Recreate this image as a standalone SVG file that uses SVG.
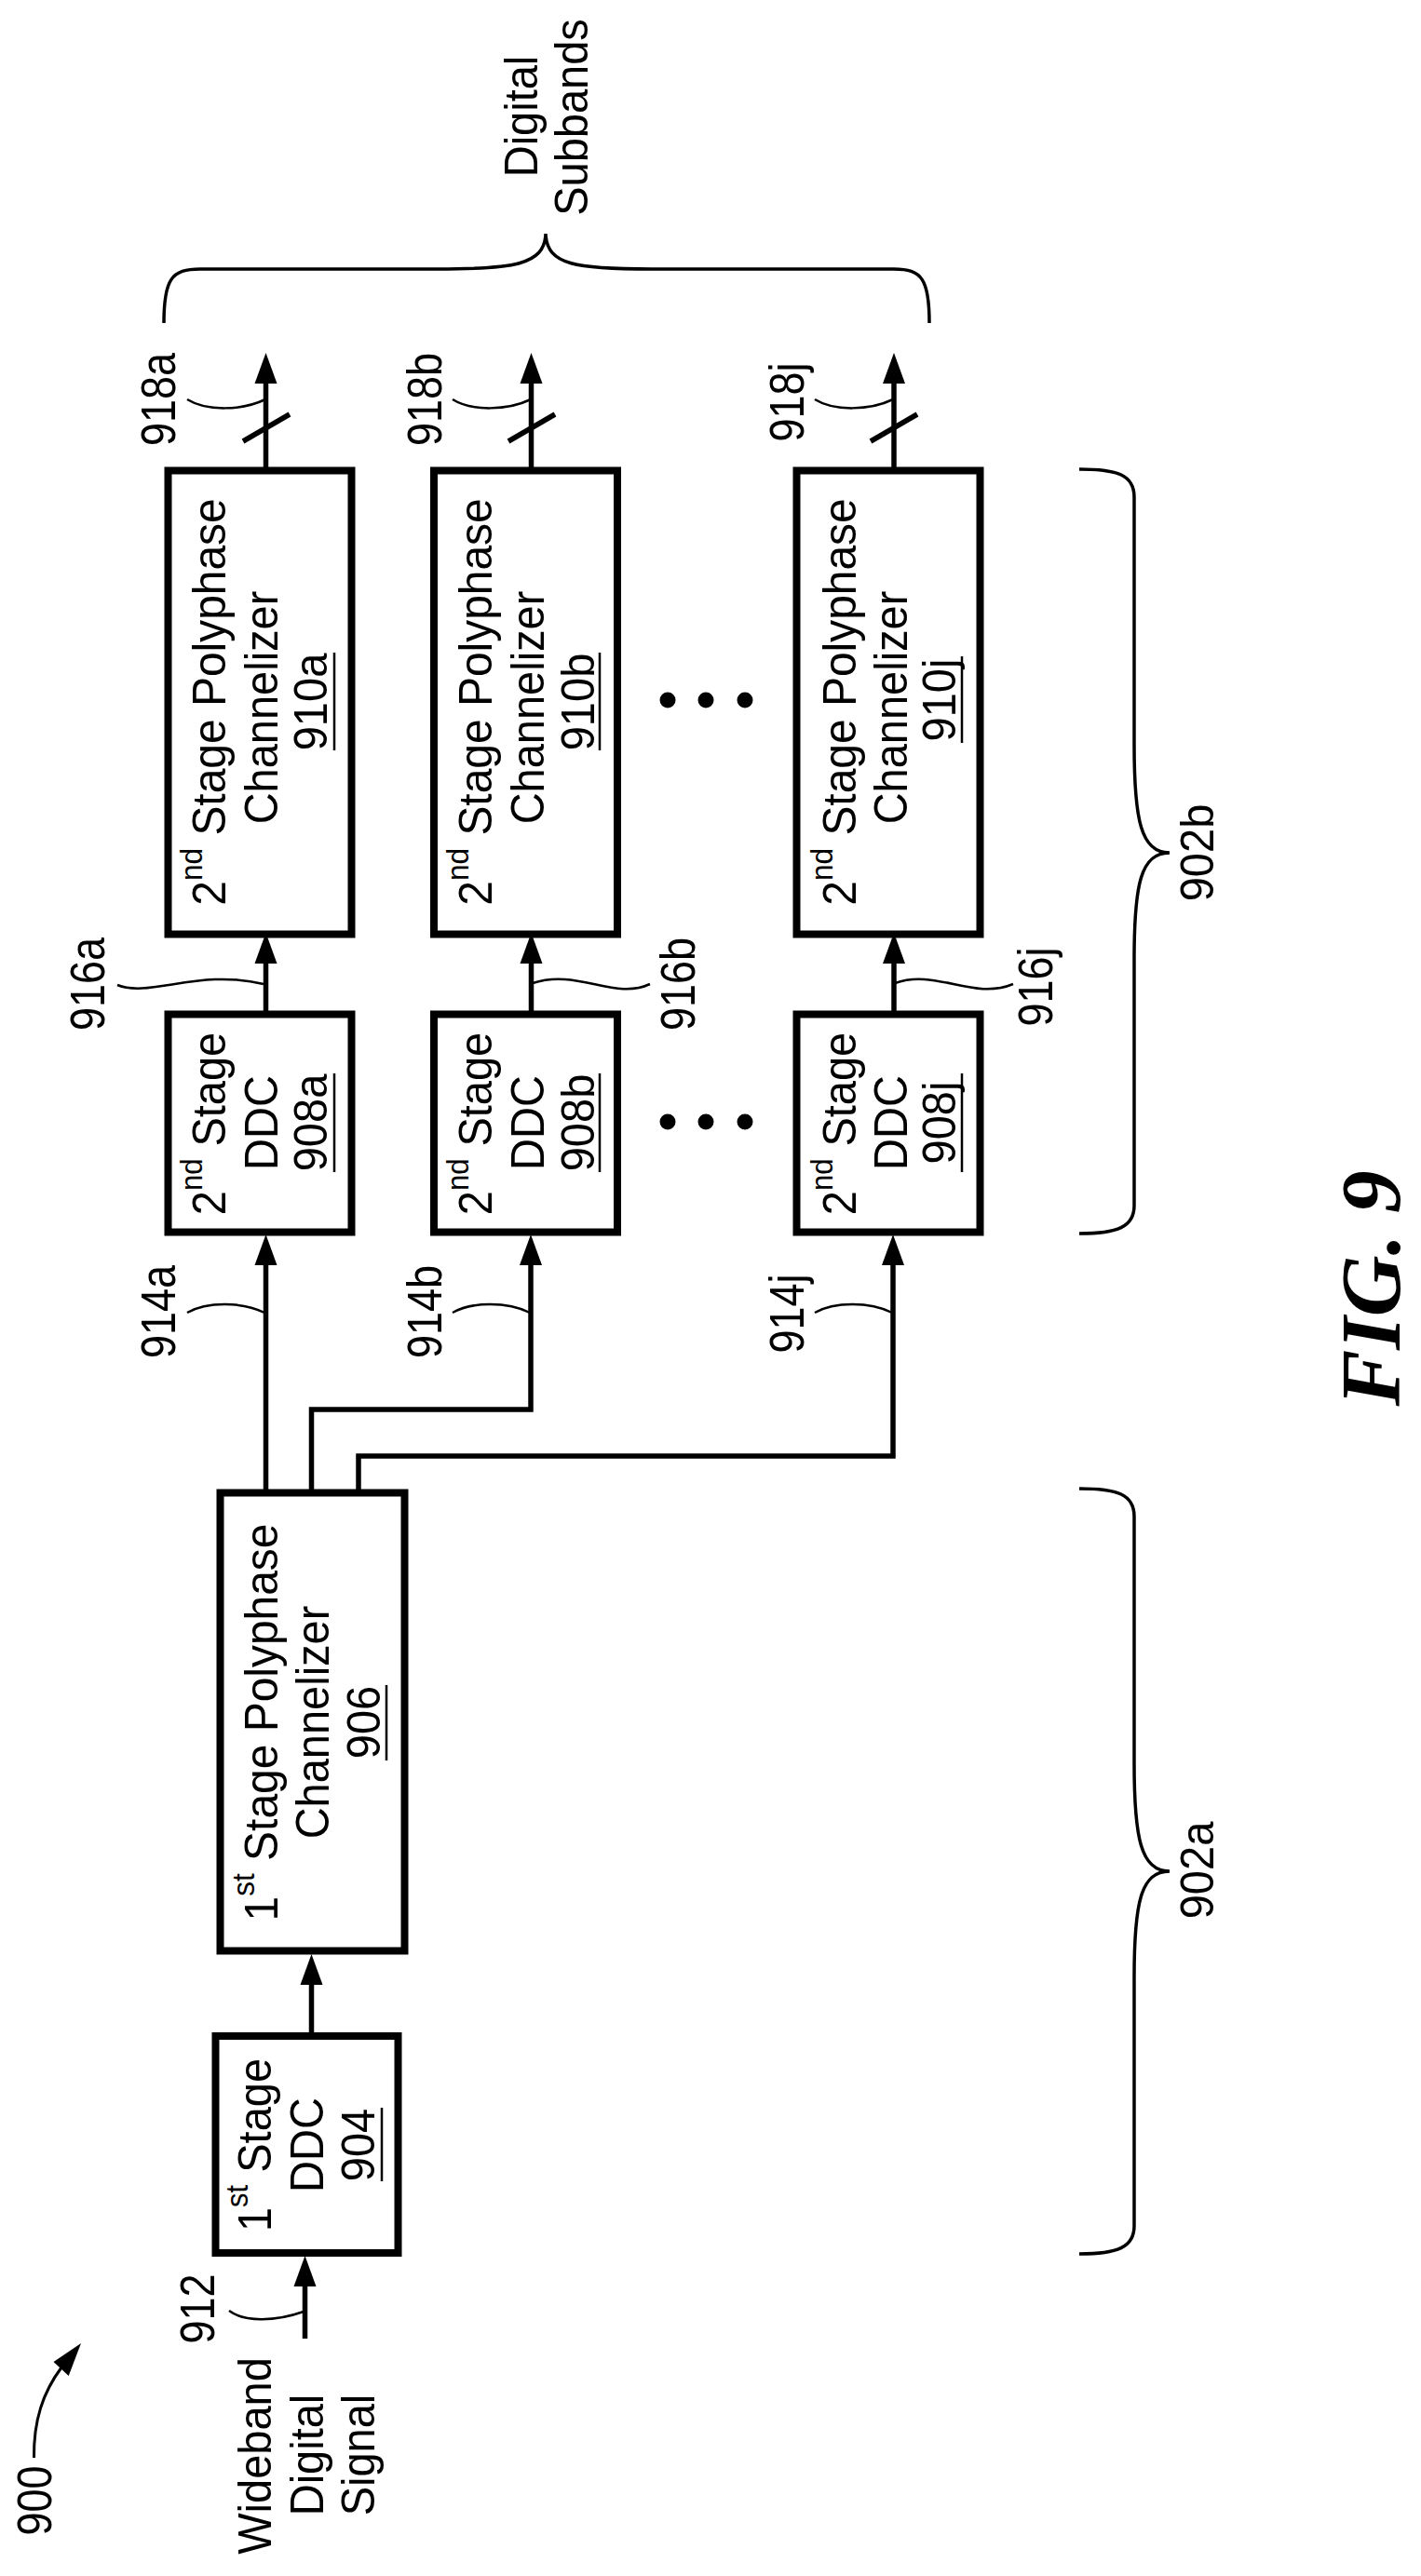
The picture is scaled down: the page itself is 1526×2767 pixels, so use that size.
<svg xmlns="http://www.w3.org/2000/svg" width="1526" height="2767" viewBox="0 0 1526 2767">
<style>
text{font-family:"Liberation Sans",Arial,sans-serif;font-size:47px;fill:#000;text-anchor:middle}
.n{font-size:45px}
.fig{font-family:"Liberation Serif","Times New Roman",serif;font-size:91px;font-weight:bold;font-style:italic}
.box{fill:#fff;stroke:#000;stroke-width:8}
.ul{stroke:#000;stroke-width:2.5;fill:none}
.wire{fill:none;stroke:#000;stroke-width:5.5}
.arr{marker-end:url(#head)}
.lead{fill:none;stroke:#000;stroke-width:2.5}
.brace{fill:none;stroke:#000;stroke-width:3.5}
.sup{font-size:31px}
</style>
<defs>
<marker id="head" markerUnits="userSpaceOnUse" markerWidth="33" markerHeight="24" refX="3" refY="12" orient="auto" overflow="visible"><path d="M0,0L33,12L0,24Z" fill="#000"/></marker>
</defs>
<rect width="1526" height="2767" fill="#fff"/>
<g id="connectors">
<path class="wire arr" d="M285.5,502V409"/>
<path class="wire arr" d="M570.5,502V409"/>
<path class="wire arr" d="M960,502V409"/>
<path class="wire" d="M261,474L311,445"/>
<path class="wire" d="M546,474L596,445"/>
<path class="wire" d="M935,474L985,445"/>
<path class="wire arr" d="M285.5,1086V1032"/>
<path class="wire arr" d="M570.5,1086V1032"/>
<path class="wire arr" d="M960,1086V1032"/>
<path class="wire arr" d="M285.5,1600V1356"/>
<path class="wire arr" d="M334.5,1600V1514H570V1356"/>
<path class="wire arr" d="M385,1600V1564H959V1356"/>
<path class="wire arr" d="M334.5,2183V2129"/>
<path class="wire arr" d="M327.5,2512V2453"/>
<path class="lead" d="M201,429C222,442 260,441 285,429"/>
<path class="lead" d="M486,429C507,442 545,441 570,429"/>
<path class="lead" d="M875,429C896,442 934,441 959,429"/>
<path class="lead" d="M201,1410C222,1398 260,1398 284,1410"/>
<path class="lead" d="M486,1410C507,1398 545,1398 569,1410"/>
<path class="lead" d="M875,1410C896,1398 934,1398 958,1410"/>
<path class="lead" d="M126,1058C160,1072 215,1040 283,1057"/>
<path class="lead" d="M572,1056C620,1040 660,1075 698,1057"/>
<path class="lead" d="M961,1056C1005,1040 1045,1075 1088,1057"/>
<path class="lead" d="M246,2482C262,2494 295,2494 326,2483"/>
<path class="lead" d="M36.5,2640C36,2600 46,2570 66,2543" style="stroke-width:3"/>
<path d="M87,2517L57.5,2537L73.7,2552Z" fill="#000"/>
<path class="brace" d="M176,347C176,300 184,289 215,289H470C550,289 585,285 586,251C587,285 620,289 700,289H960C990,289 998,300 998,347"/>
<path class="brace" d="M1159,504C1200,504 1218,510 1218,534V800C1218,880 1225,916 1256,916C1225,916 1218,950 1218,1030V1295C1218,1318 1200,1325 1159,1325"/>
<path class="brace" d="M1159,1599C1200,1599 1218,1605 1218,1629V1894C1218,1974 1225,2010 1256,2010C1225,2010 1218,2044 1218,2124V2391C1218,2414 1200,2421 1159,2421"/>
</g>
<g id="n910a"><rect class="box" x="180.500" y="505.500" width="197" height="498"/>
<text transform="translate(242,754) rotate(-90) scale(1.02,1.07)">2<tspan class="sup" dy="-23">nd</tspan><tspan dy="23"> Stage Polyphase</tspan></text>
<text transform="translate(298,760) rotate(-90) scale(1,1.07)">Channelizer</text>
<text transform="translate(351,754) rotate(-90) scale(1,1.07)">910a</text><path class="ul" d="M359,701V806"/></g>
<g id="n910b"><rect class="box" x="466" y="505.500" width="197" height="498"/>
<text transform="translate(527.500,754) rotate(-90) scale(1.02,1.07)">2<tspan class="sup" dy="-23">nd</tspan><tspan dy="23"> Stage Polyphase</tspan></text>
<text transform="translate(584,760) rotate(-90) scale(1,1.07)">Channelizer</text>
<text transform="translate(638,754) rotate(-90) scale(1,1.07)">910b</text><path class="ul" d="M644,701V806"/></g>
<g id="n910j"><rect class="box" x="855.500" y="505.500" width="197" height="498"/>
<text transform="translate(919,754) rotate(-90) scale(1.02,1.07)">2<tspan class="sup" dy="-23">nd</tspan><tspan dy="23"> Stage Polyphase</tspan></text>
<text transform="translate(974,760) rotate(-90) scale(1,1.07)">Channelizer</text>
<text transform="translate(1026,752) rotate(-90) scale(1,1.07)">910j</text><path class="ul" d="M1033,705V798"/></g>
<g id="n908a"><rect class="box" x="180.500" y="1089.500" width="197" height="234"/>
<text transform="translate(242,1207) rotate(-90) scale(1,1.07)">2<tspan class="sup" dy="-23">nd</tspan><tspan dy="23"> Stage</tspan></text>
<text transform="translate(298,1206) rotate(-90) scale(1,1.07)">DDC</text>
<text transform="translate(351,1206) rotate(-90) scale(1,1.07)">908a</text><path class="ul" d="M359,1153V1259"/></g>
<g id="n908b"><rect class="box" x="466" y="1089.500" width="197" height="234"/>
<text transform="translate(527.500,1207) rotate(-90) scale(1,1.07)">2<tspan class="sup" dy="-23">nd</tspan><tspan dy="23"> Stage</tspan></text>
<text transform="translate(584,1206) rotate(-90) scale(1,1.07)">DDC</text>
<text transform="translate(638,1206) rotate(-90) scale(1,1.07)">908b</text><path class="ul" d="M644,1153V1259"/></g>
<g id="n908j"><rect class="box" x="855.500" y="1089.500" width="197" height="234"/>
<text transform="translate(919,1207) rotate(-90) scale(1,1.07)">2<tspan class="sup" dy="-23">nd</tspan><tspan dy="23"> Stage</tspan></text>
<text transform="translate(974,1206) rotate(-90) scale(1,1.07)">DDC</text>
<text transform="translate(1026,1206) rotate(-90) scale(1,1.07)">908j</text><path class="ul" d="M1033,1153V1259"/></g>
<g id="n906"><rect class="box" x="236.500" y="1603.500" width="198" height="492"/>
<text transform="translate(298,1850) rotate(-90) scale(1.02,1.07)">1<tspan class="sup" dy="-23">st</tspan><tspan dy="23"> Stage Polyphase</tspan></text>
<text transform="translate(353,1850) rotate(-90) scale(1,1.07)">Channelizer</text>
<text transform="translate(408,1850) rotate(-90) scale(1,1.07)">906</text><path class="ul" d="M415,1810V1891"/></g>
<g id="n904"><rect class="box" x="231.500" y="2187" width="196" height="233"/>
<text transform="translate(291,2304) rotate(-90) scale(1,1.07)">1<tspan class="sup" dy="-23">st</tspan><tspan dy="23"> Stage</tspan></text>
<text transform="translate(347,2304) rotate(-90) scale(1,1.07)">DDC</text>
<text transform="translate(402,2304) rotate(-90) scale(1,1.07)">904</text><path class="ul" d="M410,2264V2343"/></g>
<g id="labels">
<text transform="translate(577,125) rotate(-90) scale(1,1.07)">Digital</text>
<text transform="translate(631,126) rotate(-90) scale(1,1.07)">Subbands</text>
<text class="n" transform="translate(188,429) rotate(-90) scale(1,1.14)">918a</text>
<text class="n" transform="translate(473.500,429) rotate(-90) scale(1,1.14)">918b</text>
<text class="n" transform="translate(863,432) rotate(-90) scale(1,1.14)">918j</text>
<text class="n" transform="translate(112,1057) rotate(-90) scale(1,1.14)">916a</text>
<text class="n" transform="translate(746,1057) rotate(-90) scale(1,1.14)">916b</text>
<text class="n" transform="translate(1130,1060) rotate(-90) scale(1,1.14)">916j</text>
<text class="n" transform="translate(188,1409) rotate(-90) scale(1,1.14)">914a</text>
<text class="n" transform="translate(473.500,1409) rotate(-90) scale(1,1.14)">914b</text>
<text class="n" transform="translate(863,1411) rotate(-90) scale(1,1.14)">914j</text>
<text class="n" transform="translate(230,2480) rotate(-90) scale(1,1.14)">912</text>
<text transform="translate(291,2638) rotate(-90) scale(1,1.07)">Wideband</text>
<text transform="translate(347,2637) rotate(-90) scale(1,1.07)">Digital</text>
<text transform="translate(402,2637) rotate(-90) scale(1,1.07)">Signal</text>
<text class="n" transform="translate(54.700,2686) rotate(-90) scale(1,1.14)">900</text>
<text transform="translate(1303,916) rotate(-90) scale(1,1.07)">902b</text>
<text transform="translate(1303,2009) rotate(-90) scale(1,1.07)">902a</text>
<text class="fig" transform="translate(1503,1384) rotate(-90)">FIG. 9</text>
</g>
<g id="ellipses" fill="#000">
<circle cx="717" cy="752" r="8.500"/><circle cx="758" cy="752" r="8.500"/><circle cx="800" cy="752" r="8.500"/>
<circle cx="717" cy="1205" r="8.500"/><circle cx="758" cy="1205" r="8.500"/><circle cx="800" cy="1205" r="8.500"/>
</g>
</svg>
